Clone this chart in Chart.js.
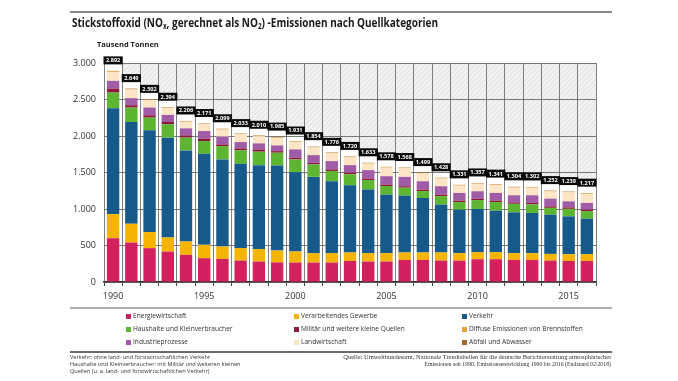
<!DOCTYPE html>
<html><head><meta charset="utf-8">
<script src="https://cdn.jsdelivr.net/npm/chart.js@4.4.1/dist/chart.umd.min.js"></script>
<style>
html,body{margin:0;padding:0;background:#fff;}
#wrap{position:relative;width:678px;height:381px;overflow:hidden;font-family:"Open Sans",sans-serif;color:#222;}
#c{position:absolute;left:0;top:0;}
.abs{position:absolute;white-space:nowrap;line-height:1;}
.rule{position:absolute;height:2px;}
#title{left:72px;top:17px;font-weight:700;font-size:12.5px;color:#1a1a1a;transform-origin:0 0;}
#title sub{font-size:8px;vertical-align:-2px;}
#unit{left:97px;top:41px;font-weight:700;font-size:7.5px;color:#222;}
.lg{position:absolute;font-size:6.6px;color:#333;white-space:nowrap;line-height:1;}
.lg i{display:inline-block;width:5px;height:5px;margin-right:2px;vertical-align:-0.5px;}
.fl{left:70px;font-size:5.6px;color:#333;transform-origin:0 0;}
.fr{right:67px;font-size:5.8px;color:#333;font-family:"Liberation Serif",serif;transform-origin:100% 0;}
</style></head>
<body><div id="wrap">
<canvas id="c" width="678" height="381"></canvas>
<div class="rule" style="left:70px;top:11px;width:542px;background:#8a8a8a;"></div>
<div id="title" class="abs">Stickstoffoxid (NO<sub>x</sub>, gerechnet als NO<sub>2</sub>) -Emissionen nach Quellkategorien</div>
<div id="unit" class="abs">Tausend Tonnen</div>
<div class="rule" style="left:70px;top:307px;width:542px;background:#b0b0b0;"></div>
<div id="legend"></div>
<div class="rule" style="left:70px;top:351px;width:542px;background:#6a6a6a;"></div>
<div class="abs fl" style="top:355px;">Verkehr: ohne land- und forstwirtschaftlichen Verkehr</div>
<div class="abs fl" style="top:362px;">Haushalte und Kleinverbraucher: mit Militär und weiteren kleinen</div>
<div class="abs fl" style="top:369px;">Quellen (u. a. land- und forstwirtschaftlichen Verkehr)</div>
<div class="abs fr" id="fr1" style="top:355px;">Quelle: Umweltbundesamt, Nationale Trendtabellen für die deutsche Berichterstattung atmosphärischer</div>
<div class="abs fr" id="fr2" style="top:362px;">Emissionen seit 1990, Emissionsentwicklung 1990 bis 2016 (Endstand 02/2018)</div>
</div>
<script>
// ---- data (Tausend Tonnen) ----
const years = [1990,1991,1992,1993,1994,1995,1996,1997,1998,1999,2000,2001,2002,2003,2004,2005,2006,2007,2008,2009,2010,2011,2012,2013,2014,2015,2016];
const yearTickLabels = ['1990','1995','2000','2005','2010','2015'];
const energiewirtschaft = [600,540,464,417,372,326,316,293,280,268,266,266,266,289,280,280,303,303,293,293,312,312,303,303,293,289,289];
const verarbeitendesGewerbe = [330,258,220,193,183,183,170,171,170,163,151,129,129,115,115,115,101,101,111,102,96,96,92,92,92,92,92];
const verkehr = [1450,1394,1394,1367,1248,1248,1193,1155,1151,1165,1087,1045,985,922,871,802,779,747,656,596,592,569,559,550,537,518,486];
const haushalte = [215,198,174,183,174,174,183,184,184,175,175,170,141,150,130,118,109,95,117,104,122,118,117,118,94,103,104];
const militaer = [55,32,32,32,32,32,23,27,31,22,22,22,22,22,21,20,20,20,20,20,20,20,20,20,20,20,20];
const industrieprozesse = [105,96,106,97,96,105,106,87,83,78,115,106,113,103,115,114,128,114,115,105,101,105,97,105,106,83,92];
const landwirtschaft = [120,118,100,93,89,91,96,104,99,102,103,104,108,107,89,117,116,107,104,99,102,109,104,102,98,122,122];
const diffuseEmissionen = [12,8,7,7,7,7,7,7,7,7,7,7,7,7,7,7,7,7,7,7,7,7,7,7,7,7,7];
const abfall = [5,5,5,5,5,5,5,5,5,5,5,5,5,5,5,5,5,5,5,5,5,5,5,5,5,5,5];
const totals = [2892,2649,2502,2394,2206,2171,2099,2033,2010,1985,1931,1854,1776,1720,1633,1578,1568,1499,1428,1331,1357,1341,1304,1302,1252,1239,1217];
const yTickValues = [0,500,1000,1500,2000,2500,3000];

const seriesNames = ['Energiewirtschaft','Verarbeitendes Gewerbe','Verkehr','Haushalte und Kleinverbraucher','Militär und weitere kleine Quellen','Industrieprozesse','Landwirtschaft','Diffuse Emissionen von Brennstoffen','Abfall und Abwasser'];
const seriesData = [energiewirtschaft,verarbeitendesGewerbe,verkehr,haushalte,militaer,industrieprozesse,landwirtschaft,diffuseEmissionen,abfall];
const seriesColors = ['#d3215f','#f5b400','#16598b','#5db532','#8b1a3c','#a05ca6','#fde5c6','#e9a23a','#a06a2c'];
const legendOrder = [0,1,2,3,4,7,5,6,8];

function fmt(v){ v=Math.round(v); if(v<1000) return String(v); return Math.floor(v/1000)+'.'+String(v%1000).padStart(3,'0'); }

// hatch pattern
const pc = document.createElement('canvas'); pc.width=5; pc.height=5;
const px = pc.getContext('2d');
px.fillStyle='#f1f1f1'; px.fillRect(0,0,5,5);
px.strokeStyle='#e0e0e0'; px.lineWidth=1;
px.beginPath(); px.moveTo(0,5); px.lineTo(5,0); px.stroke();
px.beginPath(); px.moveTo(-1,1); px.lineTo(1,-1); px.stroke();
px.beginPath(); px.moveTo(4,6); px.lineTo(6,4); px.stroke();

const BOX_OFF = 10.5, BOX_H = 8;

const bgPlugin = {
  id:'bg',
  beforeDraw(chart){
    const {ctx, chartArea:a, scales:{x,y}} = chart;
    ctx.save();
    ctx.fillStyle = ctx.createPattern(pc,'repeat');
    ctx.fillRect(a.left,a.top,a.right-a.left,a.bottom-a.top);
    const w = (a.right-a.left)/years.length;
    ctx.fillStyle='#ffffff';
    totals.forEach((t,i)=>{
      const cx = x.getPixelForValue(i);
      const top = Math.max(a.top, y.getPixelForValue(t)-BOX_OFF);
      ctx.fillRect(cx-w/2, top, w, a.bottom-top);
    });
    ctx.restore();
  },
  afterDatasetsDraw(chart){
    const {ctx, chartArea:a, scales:{x,y}} = chart;
    const w = (a.right-a.left)/years.length;
    ctx.save();
    totals.forEach((t,i)=>{
      const cx = x.getPixelForValue(i);
      const cy = y.getPixelForValue(t)-BOX_OFF;
      ctx.fillStyle='#0a0a0a';
      ctx.fillRect(cx-w/2-0.5, cy-BOX_H/2, w+1, BOX_H);
      ctx.fillStyle='#ffffff';
      ctx.font='bold 5.6px "Open Sans", sans-serif';
      ctx.textAlign='center'; ctx.textBaseline='middle';
      ctx.fillText(fmt(t), cx, cy+0.3);
    });
    ctx.restore();
  }
};

new Chart(document.getElementById('c'), {
  type:'bar',
  data:{
    labels: years.map(String),
    datasets: seriesNames.map((n,k)=>({
      label:n, data:seriesData[k], backgroundColor:seriesColors[k],
      borderWidth:0, barPercentage:0.68, categoryPercentage:1, stack:'s'
    }))
  },
  options:{
    responsive:false, animation:false,
    layout:{padding:{left:56,right:82,top:63,bottom:79}},
    plugins:{legend:{display:false},tooltip:{enabled:false},title:{display:false}},
    scales:{
      x:{
        stacked:true,
        afterFit(s){ s.height=20; },
        grid:{display:true, offset:true, color:'#707070', lineWidth:0.9, drawTicks:true, tickLength:4, tickColor:'#333'},
        border:{display:true, color:'#333', width:1.5},
        ticks:{autoSkip:false, maxRotation:0, padding:5, color:'#333', font:{size:9, family:'"Open Sans", sans-serif'},
          callback(v,i){ const s=String(years[i]); return yearTickLabels.includes(s)?s:''; }}
      },
      y:{
        stacked:true, min:0, max:3000,
        afterFit(s){ s.width=48; },
        afterBuildTicks(s){ s.ticks = yTickValues.map(v=>({value:v})); },
        grid:{color:'#6a6a6a', lineWidth:0.9, drawTicks:false},
        border:{display:false},
        ticks:{padding:8, color:'#333', font:{size:9, family:'"Open Sans", sans-serif'}, callback:v=>fmt(v)}
      }
    }
  },
  plugins:[bgPlugin]
});

// legend (HTML)
const lg = document.getElementById('legend');
const colX = [126,294,462], rowY = [313,326,339];
legendOrder.forEach((k,j)=>{
  const d = document.createElement('div');
  d.className='lg';
  d.style.left = colX[j%3]+'px'; d.style.top = rowY[Math.floor(j/3)]+'px';
  d.innerHTML = '<i style="background:'+seriesColors[k]+'"></i>'+seriesNames[k];
  lg.appendChild(d);
});

function fitW(el, target){ const w=el.getBoundingClientRect().width; if(w>0) el.style.transform='scaleX('+(target/w)+')'; }
fitW(document.getElementById('title'), 366);
fitW(document.getElementById('fr1'), 268);
</script>
</body></html>
